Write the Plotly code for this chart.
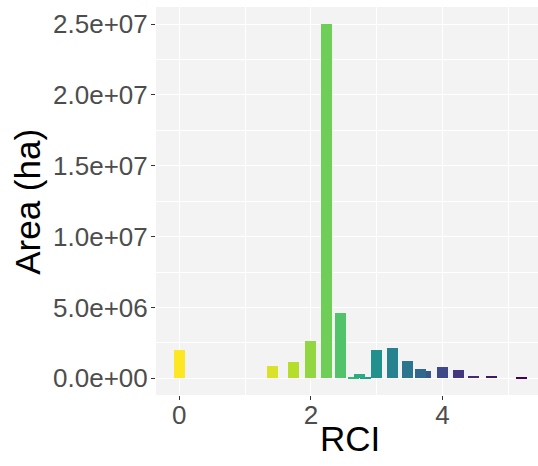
import plotly.graph_objects as go
from plotly.colors import sample_colorscale

# RCI class centres and the area (ha) falling in each class, in drawing order
rci = [0.0, 1.42, 1.74, 2.0, 2.24, 2.45, 2.65, 2.83, 2.74, 3.0, 3.24, 3.46,
       3.74, 3.67, 4.0, 4.24, 4.47, 4.74, 5.2]
area = [2.03e6, 0.85e6, 1.18e6, 2.61e6, 2.50e7, 4.63e6, 0.12e6, 0.07e6, 0.33e6,
        2.00e6, 2.12e6, 1.20e6, 0.50e6, 0.68e6, 0.80e6, 0.58e6, 0.16e6, 0.18e6,
        0.06e6]

y_ticks = [0, 5e6, 1e7, 1.5e7, 2e7, 2.5e7]
x_ticks = [0, 2, 4]

# reversed viridis, one discrete level per class (ranked by RCI)
order = sorted(rci)
n = len(order)
levels = [1 - order.index(v) / (n - 1) for v in rci]
colors = sample_colorscale("Viridis", levels)

font_family = "Liberation Sans, Arial, sans-serif"
title_font = dict(size=35, color="black", family=font_family)

fig = go.Figure(
    go.Bar(
        x=rci,
        y=area,
        width=[0.167] * n,
        marker=dict(color=colors, line=dict(width=0)),
        showlegend=False,
    )
)

fig.update_layout(
    width=538,
    height=466,
    margin=dict(l=156, r=0, t=7, b=71),
    paper_bgcolor="white",
    plot_bgcolor="#f3f3f3",
    font=dict(family=font_family),
    bargap=0,
    annotations=[
        dict(text="RCI", xref="paper", yref="paper", x=0.508, y=-0.111,
             xanchor="center", yanchor="middle", showarrow=False,
             font=title_font),
        dict(text="Area (ha)", xref="paper", yref="paper", x=-0.336, y=0.497,
             xanchor="center", yanchor="middle", showarrow=False,
             textangle=-90, font=title_font),
    ],
)

fig.update_xaxes(
    range=[-0.353, 5.45],
    tickmode="array",
    tickvals=x_ticks,
    ticktext=[str(v) for v in x_ticks],
    tickfont=dict(size=26, color="#4d4d4d"),
    ticklabelstandoff=-7,
    ticks="outside",
    ticklen=4,
    tickwidth=1,
    tickcolor="#333333",
    showgrid=True,
    gridcolor="white",
    gridwidth=1.3,
    minor=dict(tickmode="linear", tick0=0, dtick=1, showgrid=True,
               gridcolor="white", gridwidth=0.6, ticks=""),
    zeroline=False,
    showline=False,
)

fig.update_yaxes(
    range=[-1.18e6, 2.62e7],
    tickmode="array",
    tickvals=y_ticks,
    ticktext=[f"{v:.1e}" for v in y_ticks],
    tickfont=dict(size=26, color="#4d4d4d"),
    ticklabelstandoff=-2,
    ticks="outside",
    ticklen=4,
    tickwidth=1,
    tickcolor="#333333",
    showgrid=True,
    gridcolor="white",
    gridwidth=1.3,
    minor=dict(tickmode="linear", tick0=0, dtick=2.5e6, showgrid=True,
               gridcolor="white", gridwidth=0.6, ticks=""),
    zeroline=False,
    showline=False,
)

fig.write_html("out.html")
